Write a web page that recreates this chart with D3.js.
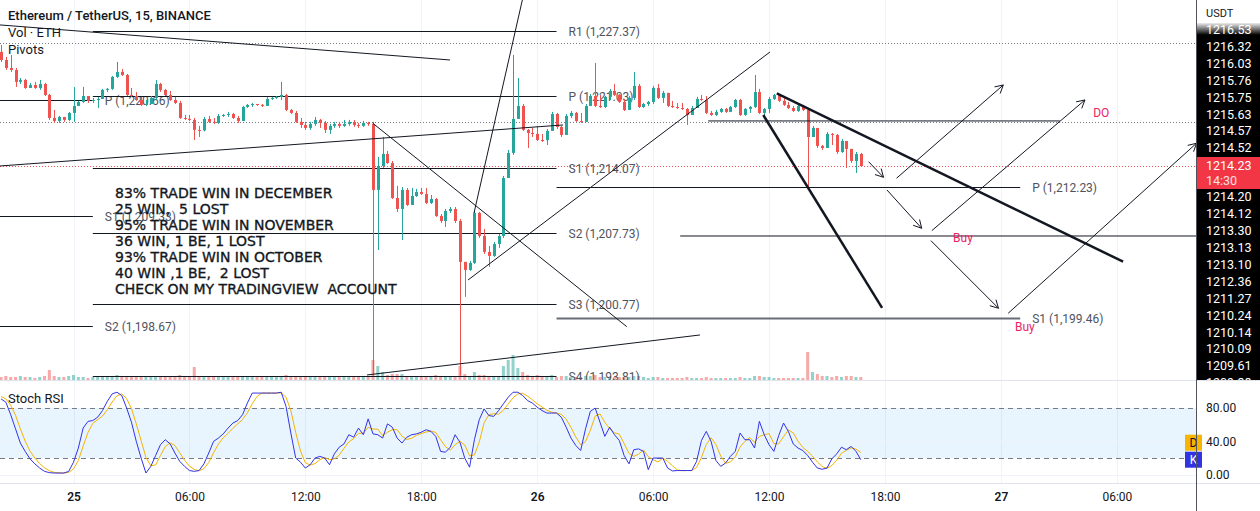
<!DOCTYPE html>
<html>
<head>
<meta charset="utf-8">
<script src="https://cdn.jsdelivr.net/npm/d3@7"></script>
<style>
  body { margin: 0; background: #fff; }
  svg text { font-family: Roboto, "Noto Sans", sans-serif; }
</style>
</head>
<body>
<svg id="chart" width="1260" height="511"></svg>
<script>
// ETHUSDT 15m, 24 Dec 20:15 -> 26 Dec 16:45 (one value per bar, open = previous close)
var firstOpen = 1225.34;
var closes = [
  1224.55,1223.77,1223.58,1222.42,1222.61,1221.83,1222.12,1221.83,1222.22,1221.15,
  1218.91,1218.62,1219.01,1218.72,1219.40,1220.08,1220.47,1221.05,1220.57,1220.66,
  1220.76,1221.64,1221.74,1222.90,1223.39,1223.09,1221.15,1221.05,1220.66,1220.18,
  1220.27,1220.86,1222.22,1221.64,1221.15,1220.66,1220.37,1218.91,1218.82,1218.72,
  1217.75,1217.70,1218.82,1218.53,1218.43,1219.11,1219.20,1219.30,1218.91,1218.62,
  1219.98,1220.18,1220.27,1220.18,1220.08,1220.76,1220.86,1220.96,1221.15,1219.69,
  1219.40,1218.53,1218.23,1217.94,1218.33,1218.72,1218.43,1217.75,1218.14,1218.33,
  1218.14,1218.33,1218.53,1218.23,1218.14,1218.43,1218.33,1211.91,1214.24,1215.41,
  1214.53,1211.13,1210.06,1211.91,1210.45,1211.32,1211.71,1211.52,1210.64,1211.03,
  1209.38,1208.89,1209.86,1210.06,1208.89,1204.91,1204.13,1204.81,1209.67,1207.43,
  1205.88,1205.49,1206.65,1207.43,1213.07,1215.51,1218.82,1220.08,1217.75,1217.45,
  1217.36,1216.77,1216.75,1217.65,1219.30,1218.04,1217.26,1219.11,1219.40,1218.62,
  1218.53,1220.08,1221.05,1220.08,1219.98,1220.96,1221.54,1221.15,1220.47,1219.69,
  1220.86,1222.03,1219.98,1220.27,1220.47,1221.83,1220.86,1221.35,1220.08,1219.98,
  1219.88,1219.79,1219.20,1219.88,1220.76,1220.66,1219.40,1219.20,1219.50,1219.79,
  1219.50,1219.98,1220.66,1219.20,1219.79,1219.98,1221.44,1219.40,1219.79,1220.76,
  1221.15,1220.57,1220.18,1219.88,1219.59,1220.08,1219.69,1217.06,1217.94,1216.19,
  1215.99,1217.36,1217.26,1215.60,1216.67,1215.90,1214.73,1215.41,1214.23
];
var highs = [
  1226.01,1224.84,1225.04,1223.77,1222.80,1222.71,1222.32,1222.42,1222.61,1222.32,
  1221.25,1219.69,1219.11,1219.01,1219.50,1221.93,1220.57,1221.93,1221.05,1220.86,
  1220.96,1221.74,1221.83,1223.00,1224.36,1223.68,1223.19,1221.83,1221.44,1220.96,
  1220.66,1221.05,1222.61,1222.32,1221.74,1221.54,1220.96,1220.57,1219.20,1219.20,
  1218.91,1218.14,1219.01,1219.11,1218.91,1219.30,1219.30,1219.50,1219.40,1219.11,
  1220.08,1220.27,1220.37,1220.27,1220.27,1220.96,1220.96,1221.05,1222.42,1221.25,
  1219.79,1219.59,1218.91,1218.53,1218.53,1219.01,1218.82,1218.62,1218.33,1218.53,
  1218.53,1218.72,1218.72,1218.72,1218.43,1218.62,1218.53,1218.53,1215.12,1217.06,
  1215.70,1214.73,1212.30,1212.20,1212.10,1212.10,1212.01,1212.10,1212.10,1211.42,
  1211.13,1209.57,1210.06,1210.25,1210.25,1209.09,1204.91,1205.00,1209.96,1209.77,
  1208.11,1206.46,1206.85,1207.63,1213.27,1215.80,1225.04,1222.80,1220.27,1217.84,
  1217.94,1218.14,1217.36,1217.84,1219.50,1219.40,1218.14,1219.30,1219.59,1219.50,
  1219.40,1220.27,1221.25,1224.26,1221.15,1221.05,1221.74,1222.22,1221.25,1220.76,
  1221.05,1223.39,1222.22,1220.37,1220.57,1222.03,1222.22,1221.54,1221.35,1220.57,
  1220.37,1220.37,1219.88,1220.08,1220.96,1221.15,1221.05,1219.59,1219.69,1219.88,
  1219.88,1220.08,1220.76,1220.76,1219.88,1220.08,1223.09,1221.74,1219.88,1220.96,
  1221.25,1221.25,1220.86,1220.47,1220.08,1220.18,1220.18,1219.79,1218.14,1217.94,
  1216.28,1217.55,1217.45,1217.36,1216.87,1216.67,1215.90,1215.60,1215.51
];
var lows = [
  1224.36,1223.58,1223.39,1221.93,1222.22,1221.74,1221.83,1221.74,1221.64,1221.05,
  1218.72,1218.43,1218.43,1218.53,1218.62,1218.53,1220.08,1220.37,1220.37,1220.37,
  1219.88,1220.76,1221.44,1221.64,1222.80,1223.00,1221.05,1220.96,1220.57,1220.08,
  1220.08,1220.27,1220.66,1221.44,1221.05,1220.57,1220.27,1218.82,1218.72,1218.62,
  1216.77,1217.06,1217.60,1218.43,1218.33,1218.33,1219.01,1219.01,1218.82,1218.43,
  1218.62,1219.88,1219.98,1220.08,1219.98,1220.08,1220.66,1220.76,1220.66,1219.59,
  1219.30,1218.43,1217.94,1217.75,1217.75,1218.14,1217.94,1217.45,1217.36,1217.94,
  1217.94,1218.04,1218.14,1218.04,1217.94,1218.04,1218.14,1193.85,1206.07,1214.05,
  1214.44,1211.03,1209.77,1207.04,1210.35,1210.45,1211.23,1211.42,1210.54,1210.54,
  1209.28,1208.70,1208.31,1209.67,1208.70,1193.85,1201.50,1204.03,1204.71,1207.24,
  1205.68,1204.42,1205.40,1206.27,1207.24,1213.07,1215.31,1218.82,1217.65,1215.99,
  1217.06,1216.67,1216.58,1216.28,1217.65,1217.84,1217.06,1217.26,1218.91,1218.53,
  1218.43,1218.53,1220.08,1219.98,1219.88,1219.88,1220.66,1221.05,1220.37,1219.59,
  1219.69,1220.66,1219.88,1219.88,1220.08,1220.27,1220.76,1220.37,1219.98,1219.88,
  1219.79,1219.69,1218.23,1219.20,1219.88,1220.57,1219.30,1219.11,1219.11,1219.40,
  1219.40,1219.50,1219.88,1219.11,1219.11,1219.40,1219.88,1219.30,1219.11,1219.40,
  1220.66,1220.47,1220.08,1219.79,1219.50,1219.50,1219.59,1211.91,1217.06,1215.99,
  1215.80,1215.99,1216.28,1215.41,1215.51,1214.05,1214.53,1213.56,1214.14
];
var volumes = [
  300,400,300,300,400,300,300,200,300,400,1000,400,300,300,400,
  500,300,300,200,300,300,300,400,400,500,300,400,300,300,300,
  300,400,300,300,300,300,400,500,300,300,1300,400,300,300,300,
  300,300,300,300,300,400,300,300,300,300,300,300,300,400,500,
  300,400,300,300,300,300,300,300,300,300,300,300,400,300,300,300,300,
  2000,1400,800,500,600,600,600,400,400,300,300,400,300,500,400,400,300,400,
  1400,600,400,800,500,500,400,300,400,1400,2000,2500,1200,800,500,400,500,
  400,400,500,300,400,400,300,300,300,400,400,500,300,300,300,300,300,300,
  300,400,400,300,200,300,300,200,200,200,200,200,300,200,200,200,300,200,
  200,200,200,200,200,300,200,200,400,400,300,300,200,200,200,200,200,200,
  200,2800,800,600,400,400,300,400,300,400,400,300,300
];
var stochK = [
  91,87,72,55,38,28,19,13,8,4,2.5,2,2,2,4,15,32,56,64,65,
  69,77,88,97,99,95,80,63,40,20,2,10,23,36,42,37,26,16,10,5,
  4,5,13,26,40,44,49,56,62,65,72,86,98,98,98,98,98,98,99,82,
  50,20,15,8,12,20,22,20,12,25,33,37,48,45,56,48,67,49,48,44,
  61,57,44,38,45,48,49,51,54,52,46,28,27,33,48,39,20,9,42,66,
  79,71,70,77,85,93,99,99,95,89,86,81,77,74,74,74,69,57,44,35,
  29,55,76,80,63,46,57,48,41,23,13,30,31,28,6,20,20,20,8,4.5,
  5,5,5,5,16,41,52,40,17,10,14,22,28,50,42,42,32,64,48,36,
  28,47,62,52,37,32,29,23,15,8,6.5,8,19,25,33,30,34,28,18
];
var stochD = [
  94,91,83.3,71.3,55,40.3,28.3,20,13.3,8.3,4.8,2.8,2.2,2,2.7,7,17,34.3,50.7,61.7,
  66,70.3,78,87.3,94.7,97,91.3,79.3,61,41,20.7,10.7,11.7,23,33.7,38.3,35,26.3,17.3,10.3,
  6.3,4.7,7.3,14.7,26.3,36.7,44.3,49.7,55.7,61,66.3,74.3,85.3,94,98,98,98,98,98.3,93,
  77,50.7,28.3,14.3,11.7,13.3,18,20.7,18,19,23.3,31.7,39.3,43.3,49.7,49.7,57,54.7,54.7,47,
  51,54,54,46.3,42.3,43.7,47.3,49.3,51.3,52.3,50.7,42,33.7,29.3,36,40,35.7,22.7,23.7,39,
  62.3,72,73.3,72.7,77.3,85,92.3,97,97.7,94.3,90,85.3,81.3,77.3,75,74,72.3,66.7,56.7,45.3,
  36,39.7,53.3,70.3,73,63,55.3,50.3,48.7,37.3,25.7,22,24.7,29.7,21.7,18,15.3,20,16,10.8,
  5.8,4.8,5,5,8.7,20.7,36.3,44.3,36.3,22.3,13.7,15.3,21.3,33.3,40,44.7,38.7,46,48,49.3,
  37.3,37,45.7,53.7,50.3,40.3,32.7,28,22.3,15.3,9.8,7.5,11.2,17.3,25.7,29.3,32.3,30.7,26.7
];
var lastPrice = 1214.23;
var countdown = "14:30";

// daily pivots (level name, price); periods start/end at 01:00 (chart time)
var pivotEdges = [Date.UTC(2022,11,24,1), Date.UTC(2022,11,25,1), Date.UTC(2022,11,26,1), Date.UTC(2022,11,27,1)];
var pivotsDay24 = [["P",1220.66],["S1",1209.33],["S2",1198.67]];
var pivotsDay25 = [["R1",1227.37],["P",1221.03],["S1",1214.07],["S2",1207.73],["S3",1200.77],["S4",1193.81]];
var pivotsDay26 = [["P",1212.23],["S1",1199.46]];

// drawings: [bar index, price, bar index, price]
var trendLines = [
  [-0.22,1227.96, 92.95,1224.55],
  [-0.22,1214.24, 116.35,1218.23],
  [76.95,1218.40, 129.54,1198.61],
  [97.92,1209.67, 109.1,1232.82],
  [96.68,1203.15, 159.2,1225.33],
  [75.77,1193.91, 144.7,1197.80],
  [146.4,1218.62, 219.2,1218.62],
  [140.6,1207.43, 250,1207.43]
];
var boldLines = [
  [160.6,1221.31, 232.3,1204.93],
  [157.8,1219.20, 182.4,1200.43]
];
var arrows = [
  [179.6,1214.66, 182.7,1213.14],
  [185.4,1213.05, 207.5,1222.12],
  [183.4,1211.91, 190.6,1208.18],
  [192.7,1207.95, 224.4,1220.66],
  [192.5,1206.98, 206.5,1200.40],
  [208.5,1199.91, 247.5,1216.45]
];
var dottedLevels = [1226.21, 1218.52];
var notes = [["DO",226.1,1219.4],["Buy",197.1,1207.24],["Buy",209.9,1198.58]];
var noteBlockAt = [23.6, 1211.6];
var noteBlock = [
  "83% TRADE WIN IN DECEMBER",
  "25 WIN,  5 LOST",
  "95% TRADE WIN IN NOVEMBER",
  "36 WIN, 1 BE, 1 LOST",
  "93% TRADE WIN IN OCTOBER",
  "40 WIN ,1 BE,  2 LOST",
  "CHECK ON MY TRADINGVIEW  ACCOUNT"
];
// stacked price-scale tags as they show on the axis
var axisTagsTop = ["1216.53","1216.32","1216.03","1215.76","1215.75","1215.63","1214.57","1214.52"];
var axisTagsBottom = ["1214.20","1214.12","1213.30","1213.13","1213.10","1212.36","1211.27","1210.24","1210.14","1210.09","1209.61","1209.38"];
var rsiTicks = [0, 40, 80];

var svg = d3.select("#chart");
var plotR = 1196, mainB = 380, rsiT = 381, rsiB = 483;
var green = "#26a69a", red = "#ef5350";

var x = d3.scaleUtc()
  .domain([new Date(Date.UTC(2022,11,25)), new Date(Date.UTC(2022,11,26))])
  .range([73.5, 537.2]);
var y = d3.scaleLinear().domain([1193.81, 1227.37]).range([376, 31]);
var yVol = d3.scaleLinear().domain([0, 7000]).range([mainB, mainB - 70]);
var yR = d3.scaleLinear().domain([0, 100]).range([474.7, 391.4]);
var barStart = Date.UTC(2022,11,24,20,15);
function tAt(k) { return new Date(barStart + k * 900000); }
function X(k) { return x(tAt(k)); }
var fmt = d3.format(",.2f");

var defs = svg.append("defs");
defs.append("clipPath").attr("id","clipMain").append("rect")
  .attr("x",0).attr("y",0).attr("width",plotR).attr("height",mainB);
defs.append("clipPath").attr("id","clipRsi").append("rect")
  .attr("x",0).attr("y",rsiT).attr("width",plotR).attr("height",rsiB - rsiT);
var grad = defs.append("linearGradient").attr("id","fade").attr("x1",0).attr("x2",0).attr("y1",0).attr("y2",1);
grad.append("stop").attr("offset","0%").attr("stop-color","#fff").attr("stop-opacity",1);
grad.append("stop").attr("offset","100%").attr("stop-color","#fff").attr("stop-opacity",0);

// grid
var ticks = d3.utcHour.every(6).range(x.invert(0), x.invert(plotR));
svg.append("g").selectAll("line").data(ticks).enter().append("line")
  .attr("x1", function(d){return Math.round(x(d))+0.5;})
  .attr("x2", function(d){return Math.round(x(d))+0.5;})
  .attr("y1", 0).attr("y2", rsiB)
  .attr("stroke", "#f0f3fa");

var bars = closes.map(function(c, i){
  return {k:i, o: i ? closes[i-1] : firstOpen, c:c, h:highs[i], l:lows[i], v:volumes[i]};
});

var main = svg.append("g").attr("clip-path","url(#clipMain)");

// volume
main.append("g").selectAll("rect").data(bars).enter().append("rect")
  .attr("x", function(d){return X(d.k) - 1.5;})
  .attr("width", 3)
  .attr("y", function(d){return yVol(d.v);})
  .attr("height", function(d){return mainB - yVol(d.v);})
  .attr("fill", function(d){return d.c >= d.o ? green : red;})
  .attr("opacity", 0.5);

// dotted levels
main.append("g").selectAll("line").data(dottedLevels).enter().append("line")
  .attr("x1",0).attr("x2",plotR)
  .attr("y1",function(d){return Math.round(y(d))+0.5;})
  .attr("y2",function(d){return Math.round(y(d))+0.5;})
  .attr("stroke","#787b86").attr("stroke-dasharray","1,2");
main.append("line")
  .attr("x1",0).attr("x2",plotR)
  .attr("y1",Math.round(y(lastPrice))+0.5).attr("y2",Math.round(y(lastPrice))+0.5)
  .attr("stroke",red).attr("stroke-dasharray","1,2");

// pivots
var periods = [pivotsDay24, pivotsDay25, pivotsDay26];
var pivG = main.append("g");
periods.forEach(function(levels, pi){
  var x1 = x(new Date(pivotEdges[pi])), x2 = x(new Date(pivotEdges[pi+1]));
  levels.forEach(function(lv){
    var yy = Math.round(y(lv[1])) + 0.5;
    var thick = (pi === 2 && lv[0] === "S1");
    pivG.append("line").attr("x1", Math.max(0,x1)).attr("x2", x2).attr("y1", yy).attr("y2", yy)
      .attr("stroke", thick ? "#6a6d78" : "#131722").attr("stroke-width", thick ? 2 : 1);
    pivG.append("text").attr("x", x2 + 12).attr("y", yy).attr("dy","0.35em")
      .attr("font-size", 12).attr("fill", "#50535e")
      .text(lv[0] + " (" + fmt(lv[1]) + ")");
  });
});

// candles
var cg = main.append("g");
cg.selectAll("line").data(bars).enter().append("line")
  .attr("x1", function(d){return Math.round(X(d.k))+0.5;})
  .attr("x2", function(d){return Math.round(X(d.k))+0.5;})
  .attr("y1", function(d){return y(d.h);})
  .attr("y2", function(d){return y(d.l);})
  .attr("stroke", function(d){return d.c >= d.o ? green : red;});
cg.selectAll("rect").data(bars).enter().append("rect")
  .attr("x", function(d){return Math.round(X(d.k)) - 1;})
  .attr("width", 3)
  .attr("y", function(d){return y(Math.max(d.o,d.c));})
  .attr("height", function(d){return Math.max(1, Math.abs(y(d.o) - y(d.c)));})
  .attr("fill", function(d){return d.c >= d.o ? green : red;});

// drawings
var dg = main.append("g").attr("fill","none").attr("stroke","#131722");
trendLines.forEach(function(t){
  dg.append("line").attr("x1",X(t[0])).attr("y1",y(t[1])).attr("x2",X(t[2])).attr("y2",y(t[3])).attr("stroke-width",1);
});
boldLines.forEach(function(t){
  dg.append("line").attr("x1",X(t[0])).attr("y1",y(t[1])).attr("x2",X(t[2])).attr("y2",y(t[3])).attr("stroke-width",2.5);
});
arrows.forEach(function(t){
  var ax = X(t[0]), ay = y(t[1]), bx = X(t[2]), by = y(t[3]);
  var ang = Math.atan2(by - ay, bx - ax), L = 9, s = 0.5;
  var p = d3.path();
  p.moveTo(ax, ay); p.lineTo(bx, by);
  p.moveTo(bx - L*Math.cos(ang - s), by - L*Math.sin(ang - s)); p.lineTo(bx, by);
  p.lineTo(bx - L*Math.cos(ang + s), by - L*Math.sin(ang + s));
  dg.append("path").attr("d", p.toString()).attr("stroke-width",1);
});
main.append("g").selectAll("text").data(notes).enter().append("text")
  .attr("x", function(d){return X(d[1]);})
  .attr("y", function(d){return y(d[2]);})
  .attr("dy","0.35em").attr("font-size",12).attr("fill","#e91e63")
  .text(function(d){return d[0];});
main.append("g").selectAll("text").data(noteBlock).enter().append("text")
  .attr("x", X(noteBlockAt[0]))
  .attr("y", function(d,i){return y(noteBlockAt[1]) + i*16;})
  .attr("dy","0.35em")
  .style("font-family","'DejaVu Sans', Verdana, sans-serif")
  .style("white-space","pre")
  .attr("font-size",14).attr("fill","#131722")
  .attr("stroke","#131722").attr("stroke-width",0.35)
  .text(function(d){return d;});

// legend texts
var leg = svg.append("g").attr("fill","#131722").attr("font-size",13);
leg.append("text").attr("x",8).attr("y",20).attr("font-weight",500).text("Ethereum / TetherUS, 15, BINANCE");
leg.append("text").attr("x",8).attr("y",37).text("Vol \u00b7 ETH");
leg.append("text").attr("x",8).attr("y",54).text("Pivots");

// separators
svg.append("line").attr("x1",0).attr("x2",1260).attr("y1",mainB+0.5).attr("y2",mainB+0.5).attr("stroke","#e0e3eb");
svg.append("line").attr("x1",0).attr("x2",1260).attr("y1",rsiB+0.5).attr("y2",rsiB+0.5).attr("stroke","#e0e3eb");

// Stoch RSI pane
var rsi = svg.append("g").attr("clip-path","url(#clipRsi)");
rsi.append("rect").attr("x",0).attr("width",plotR)
  .attr("y",yR(80)).attr("height",yR(20)-yR(80)).attr("fill","rgba(33,150,243,0.1)");
rsi.selectAll("line.g").data([0,40]).enter().append("line")
  .attr("x1",0).attr("x2",plotR)
  .attr("y1",function(d){return Math.round(yR(d))+0.5;}).attr("y2",function(d){return Math.round(yR(d))+0.5;})
  .attr("stroke","#f0f3fa");
rsi.selectAll("line.b").data([80,20]).enter().append("line")
  .attr("x1",0).attr("x2",plotR)
  .attr("y1",function(d){return Math.round(yR(d))+0.5;}).attr("y2",function(d){return Math.round(yR(d))+0.5;})
  .attr("stroke","#787b86").attr("stroke-dasharray","5,4");
var lineK = d3.line().x(function(d,i){return X(i);}).y(function(d){return yR(d);});
rsi.append("path").attr("d", lineK(stochD)).attr("fill","none").attr("stroke","#f5b400").attr("stroke-width",1);
rsi.append("path").attr("d", lineK(stochK)).attr("fill","none").attr("stroke","#3333e6").attr("stroke-width",1);
svg.append("text").attr("x",8).attr("y",403).attr("font-size",13).attr("fill","#131722").text("Stoch RSI");

// x axis
var xa = svg.append("g").attr("transform","translate(0," + rsiB + ")")
  .call(d3.axisBottom(x).tickValues(ticks).tickSize(0).tickPadding(9)
    .tickFormat(function(d){ return d.getUTCHours() === 0 ? String(d.getUTCDate()) : d3.utcFormat("%H:%M")(d); }));
xa.select(".domain").remove();
xa.selectAll("text").attr("font-size",12).attr("fill","#131722")
  .style("font-family","Roboto, 'Noto Sans', sans-serif")
  .attr("font-weight", function(d){return d.getUTCHours() === 0 ? 600 : 400;});

// right price scale
svg.append("rect").attr("x",1197).attr("y",0).attr("width",63).attr("height",511).attr("fill","#fff");
svg.append("text").attr("x",1206).attr("y",17).attr("font-size",11).attr("fill","#131722").text("USDT");
var tg = svg.append("g");
tg.append("rect").attr("x",1197).attr("y",23).attr("width",63).attr("height",mainB - 23).attr("fill","#000");
tg.selectAll("text.t").data(axisTagsTop).enter().append("text")
  .attr("x",1206).attr("y",function(d,i){return 30 + i*16.85;}).attr("dy","0.35em")
  .attr("font-size",12.5).attr("fill","#fff").text(function(d){return d;});
tg.selectAll("text.b").data(axisTagsBottom).enter().append("text")
  .attr("x",1206).attr("y",function(d,i){return 197 + i*16.9;}).attr("dy","0.35em")
  .attr("font-size",12.5).attr("fill","#fff").text(function(d){return d;});
tg.append("rect").attr("x",1197).attr("y",157).attr("width",63).attr("height",32).attr("fill","#f23645");
tg.append("text").attr("x",1206).attr("y",166).attr("dy","0.35em").attr("font-size",12.5).attr("fill","#fff").text(lastPrice.toFixed(2));
tg.append("text").attr("x",1206).attr("y",181).attr("dy","0.35em").attr("font-size",12.5).attr("fill","#fde0e0").text(countdown);
tg.append("rect").attr("x",1197).attr("y",22).attr("width",63).attr("height",13).attr("fill","url(#fade)");
svg.append("rect").attr("x",1197).attr("y",mainB + 1).attr("width",63).attr("height",130).attr("fill","#fff");

// rsi scale
var ra = svg.append("g").attr("transform","translate(1197,0)")
  .call(d3.axisRight(yR).tickValues(rsiTicks).tickSize(0).tickPadding(9).tickFormat(d3.format(".2f")));
ra.select(".domain").remove();
ra.selectAll("text").attr("font-size",12).attr("fill","#131722").style("font-family","Roboto, 'Noto Sans', sans-serif");

// K / D badges
var kLast = stochK[stochK.length-1], dLast = stochD[stochD.length-1];
var kY = yR(kLast), dY = Math.min(yR(dLast), kY - 17);
svg.append("rect").attr("x",1185).attr("y",dY - 8).attr("width",17).attr("height",16).attr("fill","#f7b500");
svg.append("text").attr("x",1193.5).attr("y",dY).attr("dy","0.35em").attr("text-anchor","middle").attr("font-size",12).attr("fill","#131722").text("D");
svg.append("rect").attr("x",1185).attr("y",kY - 8).attr("width",17).attr("height",16).attr("fill","#3333e6");
svg.append("text").attr("x",1193.5).attr("y",kY).attr("dy","0.35em").attr("text-anchor","middle").attr("font-size",12).attr("fill","#fff").text("K");

// borders
svg.append("line").attr("x1",1196.5).attr("x2",1196.5).attr("y1",0).attr("y2",511).attr("stroke","#50535e");
svg.append("line").attr("x1",1197).attr("x2",1260).attr("y1",mainB+0.5).attr("y2",mainB+0.5).attr("stroke","#e0e3eb");
svg.append("line").attr("x1",1197).attr("x2",1260).attr("y1",rsiB+0.5).attr("y2",rsiB+0.5).attr("stroke","#e0e3eb");
</script>
</body>
</html>
